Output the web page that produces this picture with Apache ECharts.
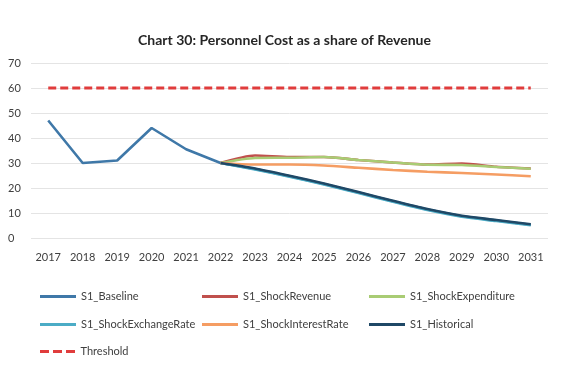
<!DOCTYPE html>
<html>
<head>
<meta charset="utf-8">
<script src="https://cdn.jsdelivr.net/npm/echarts@6/dist/echarts.min.js"></script>
<style>
  html, body { margin: 0; padding: 0; background: #ffffff; }
  #chart { width: 569px; height: 378px; }
</style>
</head>
<body>
<div id="chart"></div>
<script>
// Personnel cost as a share of revenue, 2017-2031
const years = ['2017','2018','2019','2020','2021','2022','2023','2024','2025','2026','2027','2028','2029','2030','2031'];
const yTicks = [0, 10, 20, 30, 40, 50, 60, 70];

const baseline          = [47, 30, 31, 44, 35.5, 30, 27.6, 24.7, 21.6, 18.2, 14.7, 11.4, 8.7, 7, 5.3];
const shockRevenue      = [null, null, null, null, null, 30, 33, 32.4, 32.4, 31.2, 30.2, 29.4, 29.8, 28.5, 27.8];
const shockExpenditure  = [null, null, null, null, null, 30, 32, 32.1, 32.4, 31.2, 30.2, 29.3, 29.2, 28.4, 27.7];
const shockExchangeRate = [null, null, null, null, null, 30, 27.4, 24.5, 21.4, 18, 14.5, 11.2, 8.5, 6.8, 5.1];
const shockInterestRate = [null, null, null, null, null, 30, 29.4, 29.4, 29, 28.1, 27.2, 26.5, 26, 25.4, 24.7];
const historical        = [null, null, null, null, null, 30, 27.8, 24.9, 21.8, 18.4, 14.9, 11.6, 8.9, 7.2, 5.5];
const threshold         = [60, 60, 60, 60, 60, 60, 60, 60, 60, 60, 60, 60, 60, 60, 60];

const seriesNames = ['S1_Baseline', 'S1_ShockRevenue', 'S1_ShockExpenditure',
  'S1_ShockExchangeRate', 'S1_ShockInterestRate', 'S1_Historical', 'Threshold'];
const seriesData = [baseline, shockRevenue, shockExpenditure, shockExchangeRate,
  shockInterestRate, historical, threshold];
const colors = ['#3f78a8', '#c0504d', '#a9cc74', '#4bacc6', '#f59d63', '#1f4866', '#e03c3c'];

const FONT = 'Lato, "Open Sans", sans-serif';

// legend slots: [left, top]
const legendPos = [[35, 286], [197, 286], [364, 286], [35, 314], [197, 314], [364, 314], [35, 341]];
const solidIcon = 'path://M0,0 L36,0 L36,3 L0,3 Z';
const dashIcon = 'path://M0,0 L9,0 L9,3 L0,3 Z M13,0 L22,0 L22,3 L13,3 Z M26,0 L35,0 L35,3 L26,3 Z';

const legends = seriesNames.map((name, i) => ({
  data: [{ name: name, icon: i === 6 ? dashIcon : solidIcon }],
  left: legendPos[i][0],
  top: legendPos[i][1],
  orient: 'horizontal',
  itemWidth: 36,
  itemHeight: 3,
  itemGap: 4,
  selectedMode: false,
  textStyle: { fontFamily: FONT, fontSize: 11, color: '#404040' }
}));

const series = seriesNames.map((name, i) => ({
  name: name,
  type: 'line',
  data: seriesData[i],
  symbol: 'none',
  smooth: i === 0 || i === 6 ? false : 0.25,
  connectNulls: false,
  z: i === 5 ? 5 : 3,
  lineStyle: {
    color: colors[i],
    width: i === 6 ? 3.2 : 2.6,
    type: i === 6 ? [8, 4] : 'solid',
    cap: 'butt'
  },
  itemStyle: { color: colors[i] }
}));

const chart = echarts.init(document.getElementById('chart'), null, { renderer: 'canvas' });
chart.setOption({
  backgroundColor: '#ffffff',
  animation: false,
  title: {
    text: 'Chart 30: Personnel Cost as a share of Revenue',
    left: 'center',
    top: 28,
    textStyle: { fontFamily: FONT, fontSize: 14, fontWeight: 'bold', color: '#262626' }
  },
  grid: { left: 31, right: 21, top: 63, bottom: 140, containLabel: false },
  legend: legends,
  xAxis: {
    type: 'category',
    data: years,
    boundaryGap: true,
    axisLine: { show: false },
    axisTick: { show: false },
    axisLabel: { fontFamily: FONT, fontSize: 11, color: '#404040', margin: 14, interval: 0 }
  },
  yAxis: {
    type: 'value',
    min: yTicks[0],
    max: yTicks[yTicks.length - 1],
    interval: 10,
    axisLine: { show: false },
    axisTick: { show: false },
    splitLine: { lineStyle: { color: '#e4e4e4', width: 1 } },
    axisLabel: { fontFamily: FONT, fontSize: 11, color: '#404040', margin: 23, align: 'left',
      formatter: v => yTicks.includes(v) ? String(v) : '' }
  },
  series: series
});
</script>
</body>
</html>
